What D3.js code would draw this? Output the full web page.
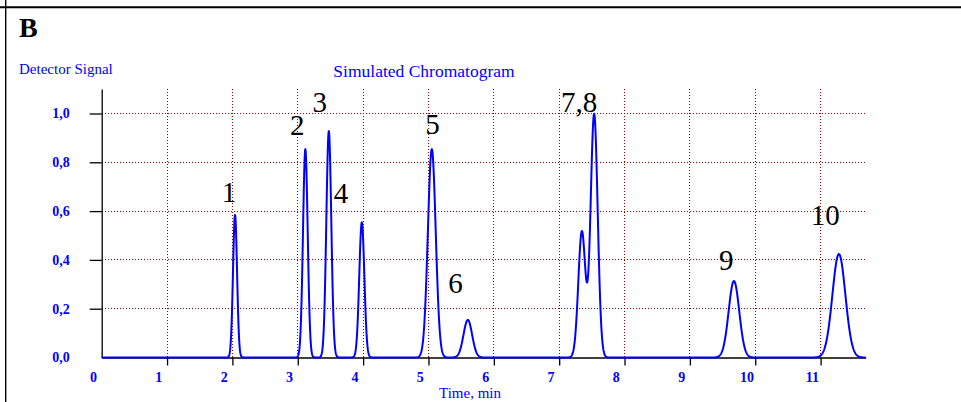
<!DOCTYPE html>
<html>
<head>
<meta charset="utf-8">
<script src="https://cdn.jsdelivr.net/npm/d3@7"></script>
<style>
  html, body { margin: 0; padding: 0; background: #fff; }
  svg { display: block; }
</style>
</head>
<body>
<script>
// Peak table of the simulated run: retention time (min), height, Gaussian sigma (min)
const peakNames      = ["1", "2", "3", "4", "5", "6", "7", "8", "9", "10"];
const retentionTimes = [2.040, 3.116, 3.475, 3.980, 5.051, 5.602, 7.347, 7.535, 9.674, 11.280];
const peakHeights    = [0.584, 0.854, 0.928, 0.554, 0.854, 0.154, 0.516, 0.998, 0.3135, 0.424];
const peakSigmas     = [0.031, 0.036, 0.038, 0.039, 0.060, 0.066, 0.054, 0.054, 0.081, 0.0995];

// Peak annotations: text, anchor time (min), anchor signal
const labelTexts   = ["1", "2", "3", "4", "5", "6", "7,8", "9", "10"];
const labelTimes   = [1.949, 2.994, 3.337, 3.663, 5.063, 5.412, 7.306, 9.556, 11.07];
const labelSignals = [0.639, 0.912, 1.006, 0.633, 0.914, 0.266, 1.006, 0.359, 0.543];

// Axis ticks
const timeTicks   = [0, 1, 2, 3, 4, 5, 6, 7, 8, 9, 10, 11];
const signalTicks = [0, 0.2, 0.4, 0.6, 0.8, 1.0];
const timeDomain   = [0, 11.69];
const signalDomain = [0, 1.1];
const sampleStep   = 0.004;

const W = 961, H = 402;
const blue = "#0000ff";
const gridColor = "#990000";
const serif = "'Liberation Serif', 'Times New Roman', serif";

const svg = d3.select("body").append("svg")
  .attr("width", W).attr("height", H);

// panel border
svg.append("line").attr("x1", 0).attr("x2", W).attr("y1", 7.2).attr("y2", 7.2)
  .attr("stroke", "#000").attr("stroke-width", 2);
svg.append("line").attr("x1", 5.7).attr("x2", 5.7).attr("y1", 0).attr("y2", H)
  .attr("stroke", "#000").attr("stroke-width", 1.4);

svg.append("text").attr("x", 19).attr("y", 37)
  .attr("font-family", serif).attr("font-weight", "bold").attr("font-size", 28)
  .text("B");

const x = d3.scaleLinear().domain(timeDomain).range([101.7, 865.7]);
const y = d3.scaleLinear().domain(signalDomain).range([357.5, 89.1]);

// titles
svg.append("text").attr("x", 19).attr("y", 74)
  .attr("font-family", serif).attr("font-size", 15).attr("fill", blue)
  .text("Detector Signal");
svg.append("text").attr("x", 424).attr("y", 77).attr("text-anchor", "middle")
  .attr("font-family", serif).attr("font-size", 17.5).attr("fill", blue)
  .text("Simulated Chromatogram");
svg.append("text").attr("x", 470).attr("y", 398).attr("text-anchor", "middle")
  .attr("font-family", serif).attr("font-size", 15).attr("fill", blue)
  .text("Time, min");

// dotted grid
const grid = svg.append("g")
  .attr("stroke", gridColor).attr("stroke-width", 1)
  .attr("stroke-dasharray", "1,2").attr("shape-rendering", "crispEdges");
grid.selectAll(".gx").data(timeTicks.filter(t => t > 0)).join("line")
  .attr("x1", d => x(d)).attr("x2", d => x(d))
  .attr("y1", y(signalDomain[1])).attr("y2", y(0));
grid.selectAll(".gy").data(signalTicks.filter(v => v > 0)).join("line")
  .attr("x1", x(timeDomain[0])).attr("x2", x(timeDomain[1]))
  .attr("y1", d => y(d)).attr("y2", d => y(d));

// axes
const commaFmt = v => d3.format(".1f")(v).replace(".", ",");

const yAxis = svg.append("g").attr("transform", `translate(${x(0)},0)`)
  .call(d3.axisLeft(y).tickValues(signalTicks).tickSize(12).tickSizeOuter(0)
    .tickPadding(20).tickFormat(commaFmt));
yAxis.selectAll(".tick").filter(d => d === 0).select("line").remove();

const xAxis = svg.append("g").attr("transform", `translate(0,${y(0)})`)
  .call(d3.axisBottom(x).tickValues(timeTicks).tickSize(8).tickSizeOuter(0)
    .tickPadding(6.6).tickFormat(d3.format("d")));
xAxis.selectAll(".tick").filter(d => d === 0).select("line").remove();
xAxis.selectAll(".tick text").attr("x", -8.7);

[yAxis, xAxis].forEach(ax => {
  ax.select(".domain").attr("stroke", "#000").attr("stroke-width", 1.3);
  ax.selectAll(".tick line").attr("stroke", "#000").attr("stroke-width", 1.3);
  ax.selectAll(".tick text").attr("fill", blue)
    .attr("font-family", serif).attr("font-weight", "bold").attr("font-size", 14);
});

// detector trace: sum of the Gaussian peaks in the table
const times = d3.range(timeDomain[0], timeDomain[1] + sampleStep / 2, sampleStep);
const signal = t => d3.sum(retentionTimes, (rt, i) =>
  peakHeights[i] * Math.exp(-((t - rt) ** 2) / (2 * peakSigmas[i] ** 2)));
const trace = times.map(t => [t, signal(t)]);

svg.append("path").datum(trace)
  .attr("fill", "none").attr("stroke", blue).attr("stroke-width", 2)
  .attr("stroke-linejoin", "round")
  .attr("d", d3.line().x(d => x(d[0])).y(d => y(d[1])));

// peak numbers
svg.append("g").selectAll("text").data(labelTexts).join("text")
  .attr("x", (d, i) => x(labelTimes[i]))
  .attr("y", (d, i) => y(labelSignals[i]))
  .attr("text-anchor", "middle")
  .attr("font-family", serif).attr("font-size", 29).attr("fill", "#000")
  .text(d => d);
</script>
</body>
</html>
